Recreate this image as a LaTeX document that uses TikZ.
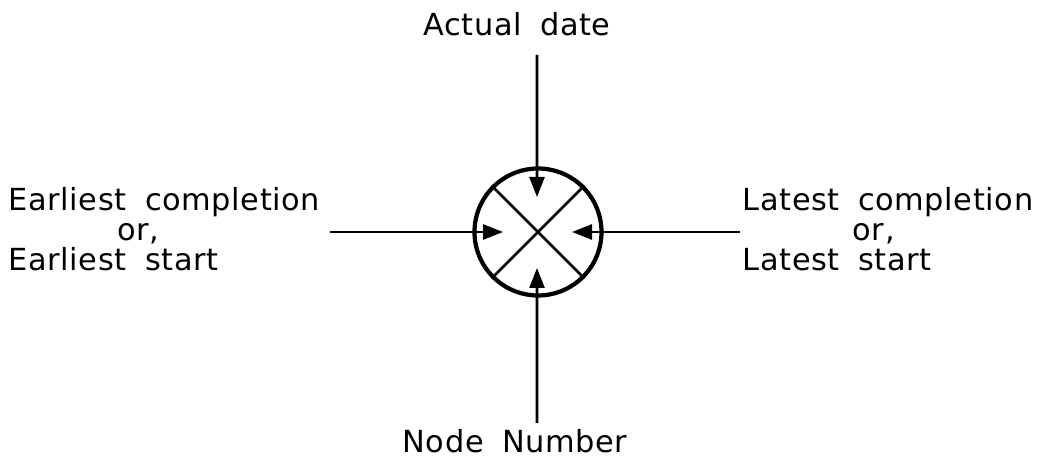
\documentclass[tikz,border=0pt]{standalone}
\usepackage{fontspec}
\setmainfont{DejaVu Sans}[LetterSpace=2,WordSpace=1.8]
\usepackage{tikz}
\usetikzlibrary{positioning, arrows.meta, calc}

\begin{document}
\begin{tikzpicture}[
    event/.style={circle, draw=black, line width=1.2pt, minimum size=1.27cm, inner sep=0pt},
    cross/.style={line width=0.75pt, draw=black},
    feed/.style={-{Triangle[length=2mm, width=1.5mm]}, line width=0.75pt, draw=black},
    caption/.style={inner sep=0pt, align=left, font=\fontsize{8.65}{8.5}\selectfont}
]
\useasboundingbox (0,0) rectangle (10.39,-4.71);

% Nodes
\node[event] (evt) at (5.38,-2.32) {};
\node[caption, anchor=base] (actual) at (5.17,-0.36) {Actual date};
\node[caption, anchor=base] (number) at (5.15,-4.53) {Node Number};
\node[caption, anchor=west] (earliest) at (0.08,-2.29) {Earliest completion\\\hspace*{1.09cm}or,\\Earliest start};
\node[caption, anchor=west] (latest) at (7.42,-2.29) {Latest completion\\\hspace*{1.10cm}or,\\Latest start};

% Cross inside the event
\draw[cross] (evt.45) -- (evt.225);
\draw[cross] (evt.135) -- (evt.-45);

% Arrow ends
\coordinate (top_in) at ($(evt.center)+(-0.01,0.35)$);
\coordinate (bot_in) at ($(evt.center)+(-0.01,-0.36)$);
\coordinate (lft_in) at ($(evt.center)+(-0.35,0)$);
\coordinate (rgt_in) at ($(evt.center)+(0.34,0)$);
\coordinate (top_out) at (5.37,-0.55);
\coordinate (bot_out) at (5.37,-4.23);
\coordinate (lft_out) at (3.30,-2.32);
\coordinate (rgt_out) at (7.40,-2.32);

% Arrows
\draw[feed] (top_out) -- (top_in);
\draw[feed] (bot_out) -- (bot_in);
\draw[feed] (lft_out) -- (lft_in);
\draw[feed] (rgt_out) -- (rgt_in);

\end{tikzpicture}
\end{document}
